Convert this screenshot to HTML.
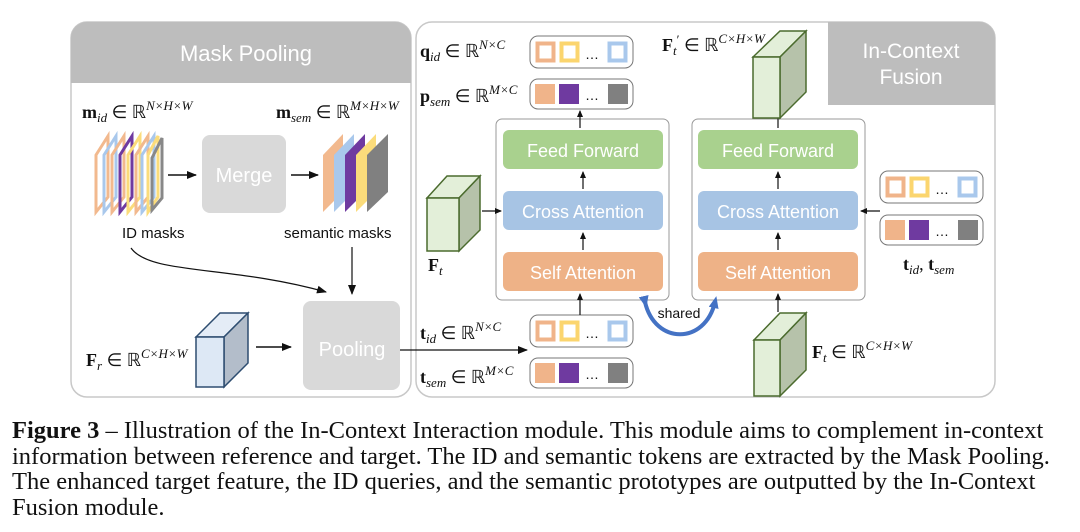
<!DOCTYPE html>
<html><head><meta charset="utf-8"><style>
html,body{margin:0;padding:0;background:#fff;}
body{width:1080px;height:532px;overflow:hidden;position:relative;}
.cap{position:absolute;left:12px;top:418px;white-space:nowrap;font-family:"Liberation Serif",serif;font-size:24.5px;line-height:25.5px;color:#111;}
svg text{font-family:"Liberation Sans",sans-serif;}
.m{font-family:"Liberation Serif",serif;font-size:18px;fill:#111;}
</style></head><body>
<svg width="1080" height="410" viewBox="0 0 1080 410" style="position:absolute;left:0;top:0">
<defs>
<marker id="ar" markerWidth="10" markerHeight="10" refX="9" refY="5" orient="auto" markerUnits="userSpaceOnUse"><path d="M0,1 L10,5 L0,9 z" fill="#111"/></marker>
<marker id="as" markerWidth="7" markerHeight="7" refX="6" refY="3.5" orient="auto" markerUnits="userSpaceOnUse"><path d="M0,0.5 L7,3.5 L0,6.5 z" fill="#111"/></marker>
<marker id="ab" markerWidth="12" markerHeight="12" refX="6" refY="6" orient="auto" markerUnits="userSpaceOnUse"><path d="M0,1 L12,6 L0,11 z" fill="#4472c4"/></marker>
</defs>
<rect x="71" y="22" width="340" height="375" rx="16" fill="#fff" stroke="#c8c8c8" stroke-width="1.5"/>
<path d="M71,83 V38 a16,16 0 0 1 16,-16 H395 a16,16 0 0 1 16,16 V83 z" fill="#bdbdbd"/>
<text x="246" y="61" font-size="22" fill="#fff" text-anchor="middle">Mask Pooling</text>
<text class="m" x="82" y="118"><tspan font-weight="bold">m</tspan><tspan font-style="italic" font-size="13" dy="4">id</tspan><tspan dy="-4"> ∈ ℝ</tspan><tspan font-style="italic" font-size="13" dy="-8">N×H×W</tspan></text>
<text class="m" x="276" y="118"><tspan font-weight="bold">m</tspan><tspan font-style="italic" font-size="13" dy="4">sem</tspan><tspan dy="-4"> ∈ ℝ</tspan><tspan font-style="italic" font-size="13" dy="-8">M×H×W</tspan></text>
<g fill="none" stroke-width="3">
<path d="M96,155 L108,136 V197 L96,212 z" stroke="#f2b98e"/>
<path d="M104,155 L116,136 V197 L104,212 z" stroke="#a9c8ec"/>
<path d="M112,155 L124,136 V197 L112,212 z" stroke="#f2b98e"/>
<path d="M120,155 L132,136 V197 L120,212 z" stroke="#6f3aa0"/>
<path d="M128,155 L140,136 V197 L128,212 z" stroke="#fbdc7b"/>
<path d="M136,155 L148,136 V197 L136,212 z" stroke="#f2b98e"/>
<path d="M142,155 L154,136 V197 L142,212 z" stroke="#a9c8ec"/>
<path d="M148,155 L158,136 V197 L148,212 z" stroke="#fbdc7b"/>
<path d="M152,158 L162,138 V198 L152,210 z" stroke="#888"/>
</g>
<line x1="168" y1="175" x2="196" y2="175" stroke="#111" stroke-width="1.5" marker-end="url(#ar)"/>
<rect x="202" y="135" width="84" height="78" rx="8" fill="#d9d9d9"/>
<text x="244" y="182" font-size="20" fill="#fff" text-anchor="middle">Merge</text>
<line x1="291" y1="175" x2="318" y2="175" stroke="#111" stroke-width="1.5" marker-end="url(#ar)"/>
<path d="M323,155 L343,134 V192 L323,212 z" fill="#f2b98e"/>
<path d="M334,155 L354,134 V192 L334,212 z" fill="#a9c8ec"/>
<path d="M345,155 L365,134 V192 L345,212 z" fill="#6f3aa0"/>
<path d="M356,155 L376,134 V192 L356,212 z" fill="#fbdc7b"/>
<path d="M367,155 L388,134 V192 L367,212 z" fill="#808080"/>
<text x="122" y="238" font-size="15" fill="#111">ID masks</text>
<text x="284" y="238" font-size="15" fill="#111">semantic masks</text>
<path d="M131,248 C150,275 230,265 326,292" fill="none" stroke="#111" stroke-width="1.2" marker-end="url(#ar)"/>
<line x1="352" y1="247" x2="352" y2="294" stroke="#111" stroke-width="1.2" marker-end="url(#ar)"/>
<rect x="303" y="301" width="97" height="89" rx="8" fill="#d9d9d9"/>
<text x="352" y="356" font-size="20" fill="#fff" text-anchor="middle">Pooling</text>
<path d="M196,337 L220,313 H248 L224,337 z" fill="#e4ecf6" stroke="#2e4d70" stroke-width="1.5"/>
<path d="M224,337 L248,313 V363 L224,387 z" fill="#b3bdca" stroke="#2e4d70" stroke-width="1.5"/>
<rect x="196" y="337" width="28" height="50" fill="#dde8f5" stroke="#2e4d70" stroke-width="1.5"/>
<text class="m" x="86" y="366"><tspan font-weight="bold">F</tspan><tspan font-style="italic" font-size="13" dy="4">r</tspan><tspan dy="-4"> ∈ ℝ</tspan><tspan font-style="italic" font-size="13" dy="-8">C×H×W</tspan></text>
<line x1="256" y1="347" x2="291" y2="347" stroke="#111" stroke-width="1.5" marker-end="url(#ar)"/>
<rect x="416" y="22" width="579" height="375" rx="16" fill="#fff" stroke="#c8c8c8" stroke-width="1.5"/>
<path d="M828,22 H979 a16,16 0 0 1 16,16 V105 H828 z" fill="#bdbdbd"/>
<text x="911" y="58" font-size="21" fill="#fff" text-anchor="middle">In-Context</text>
<text x="911" y="84" font-size="21" fill="#fff" text-anchor="middle">Fusion</text>
<line x1="400" y1="350" x2="527" y2="350" stroke="#111" stroke-width="1.2" marker-end="url(#ar)"/>
<g id="tid">
<rect x="530" y="36" width="103" height="32" rx="8" fill="#fff" stroke="#777" stroke-width="1"/>
<rect x="537.5" y="43.5" width="16" height="17" fill="#fff" stroke="#f0b48a" stroke-width="4"/>
<rect x="561.5" y="43.5" width="16" height="17" fill="#fff" stroke="#fbd56e" stroke-width="4"/>
<text x="585" y="59" font-size="14" fill="#111">…</text>
<rect x="609.5" y="43.5" width="16" height="17" fill="#fff" stroke="#a9c8ec" stroke-width="4"/>
</g>
<g id="tsem">
<rect x="530" y="79" width="103" height="30" rx="8" fill="#fff" stroke="#777" stroke-width="1"/>
<rect x="535" y="84" width="20" height="20" fill="#f0b48a"/>
<rect x="559" y="84" width="20" height="20" fill="#6f3aa0"/>
<text x="585" y="100" font-size="14" fill="#111">…</text>
<rect x="608" y="84" width="20" height="20" fill="#808080"/>
</g>
<use href="#tid" transform="translate(0,279)"/>
<use href="#tsem" transform="translate(0,279)"/>
<use href="#tid" transform="translate(350,135)"/>
<use href="#tsem" transform="translate(350,136)"/>
<text class="m" x="420" y="57"><tspan font-weight="bold">q</tspan><tspan font-style="italic" font-size="13" dy="4">id</tspan><tspan dy="-4"> ∈ ℝ</tspan><tspan font-style="italic" font-size="13" dy="-8">N×C</tspan></text>
<text class="m" x="420" y="102"><tspan font-weight="bold">p</tspan><tspan font-style="italic" font-size="13" dy="4">sem</tspan><tspan dy="-4"> ∈ ℝ</tspan><tspan font-style="italic" font-size="13" dy="-8">M×C</tspan></text>
<text class="m" x="420" y="339"><tspan font-weight="bold">t</tspan><tspan font-style="italic" font-size="13" dy="4">id</tspan><tspan dy="-4"> ∈ ℝ</tspan><tspan font-style="italic" font-size="13" dy="-8">N×C</tspan></text>
<text class="m" x="420" y="383"><tspan font-weight="bold">t</tspan><tspan font-style="italic" font-size="13" dy="4">sem</tspan><tspan dy="-4"> ∈ ℝ</tspan><tspan font-style="italic" font-size="13" dy="-8">M×C</tspan></text>
<text class="m" x="903" y="270"><tspan font-weight="bold">t</tspan><tspan font-style="italic" font-size="13" dy="4">id</tspan><tspan dy="-4">, </tspan><tspan font-weight="bold">t</tspan><tspan font-style="italic" font-size="13" dy="4">sem</tspan></text>
<text class="m" x="662" y="51"><tspan font-weight="bold">F</tspan><tspan font-style="italic" font-size="13" dy="4">t</tspan><tspan font-size="13" dy="-11">′</tspan><tspan dy="7"> ∈ ℝ</tspan><tspan font-style="italic" font-size="13" dy="-8">C×H×W</tspan></text>
<text class="m" x="812" y="358"><tspan font-weight="bold">F</tspan><tspan font-style="italic" font-size="13" dy="4">t</tspan><tspan dy="-4"> ∈ ℝ</tspan><tspan font-style="italic" font-size="13" dy="-8">C×H×W</tspan></text>
<text class="m" x="428" y="271"><tspan font-weight="bold">F</tspan><tspan font-style="italic" font-size="13" dy="4">t</tspan></text>
<g>
<rect x="496" y="119" width="173" height="181" rx="6" fill="#fff" stroke="#999" stroke-width="1"/>
<rect x="503" y="130" width="160" height="39" rx="6" fill="#a9d18e"/>
<rect x="503" y="191" width="160" height="39" rx="6" fill="#a7c4e4"/>
<rect x="503" y="252" width="160" height="39" rx="6" fill="#eeb287"/>
<text x="583" y="157" font-size="18" fill="#fff" text-anchor="middle">Feed Forward</text>
<text x="583" y="218" font-size="18" fill="#fff" text-anchor="middle">Cross Attention</text>
<text x="583" y="279" font-size="18" fill="#fff" text-anchor="middle">Self Attention</text>
<line x1="583" y1="250" x2="583" y2="233" stroke="#111" stroke-width="1.2" marker-end="url(#as)"/>
<line x1="583" y1="189" x2="583" y2="172" stroke="#111" stroke-width="1.2" marker-end="url(#as)"/>
</g>
<g>
<rect x="692" y="119" width="173" height="181" rx="6" fill="#fff" stroke="#999" stroke-width="1"/>
<rect x="698" y="130" width="160" height="39" rx="6" fill="#a9d18e"/>
<rect x="698" y="191" width="160" height="39" rx="6" fill="#a7c4e4"/>
<rect x="698" y="252" width="160" height="39" rx="6" fill="#eeb287"/>
<text x="778" y="157" font-size="18" fill="#fff" text-anchor="middle">Feed Forward</text>
<text x="778" y="218" font-size="18" fill="#fff" text-anchor="middle">Cross Attention</text>
<text x="778" y="279" font-size="18" fill="#fff" text-anchor="middle">Self Attention</text>
<line x1="778" y1="250" x2="778" y2="233" stroke="#111" stroke-width="1.2" marker-end="url(#as)"/>
<line x1="778" y1="189" x2="778" y2="172" stroke="#111" stroke-width="1.2" marker-end="url(#as)"/>
</g>
<line x1="580" y1="315" x2="580" y2="294" stroke="#111" stroke-width="1.2" marker-end="url(#as)"/>
<line x1="580" y1="128" x2="580" y2="111" stroke="#111" stroke-width="1.2" marker-end="url(#as)"/>
<line x1="778" y1="312" x2="778" y2="294" stroke="#111" stroke-width="1.2" marker-end="url(#as)"/>
<line x1="778" y1="128" x2="778" y2="111" stroke="#111" stroke-width="1.2" marker-end="url(#as)"/>
<line x1="482" y1="211" x2="501" y2="211" stroke="#111" stroke-width="1.2" marker-end="url(#as)"/>
<line x1="880" y1="211" x2="861" y2="211" stroke="#111" stroke-width="1.2" marker-end="url(#as)"/>
<path d="M645,302 C655,345 705,345 715,302" fill="none" stroke="#4472c4" stroke-width="4" marker-start="url(#ab)" marker-end="url(#ab)"/>
<text x="679" y="318" font-size="14" fill="#111" text-anchor="middle">shared</text>
<path d="M427,198 L447,176 H480 L459,198 z" fill="#e3efd9" stroke="#4b6b2e" stroke-width="1.5"/>
<path d="M459,198 L480,176 V230 L459,251 z" fill="#b6c2aa" stroke="#4b6b2e" stroke-width="1.5"/>
<rect x="427" y="198" width="32" height="53" fill="#e3efd9" stroke="#4b6b2e" stroke-width="1.5"/>
<path d="M753,57 L780,31 H806 L780,57 z" fill="#e3efd9" stroke="#4b6b2e" stroke-width="1.5"/>
<path d="M780,57 L806,31 V92 L780,118 z" fill="#b6c2aa" stroke="#4b6b2e" stroke-width="1.5"/>
<rect x="753" y="57" width="27" height="61" fill="#e3efd9" stroke="#4b6b2e" stroke-width="1.5"/>
<path d="M754,340 L780,313 H806 L780,340 z" fill="#e3efd9" stroke="#4b6b2e" stroke-width="1.5"/>
<path d="M780,340 L806,313 V370 L780,396 z" fill="#b6c2aa" stroke="#4b6b2e" stroke-width="1.5"/>
<rect x="754" y="340" width="26" height="56" fill="#e3efd9" stroke="#4b6b2e" stroke-width="1.5"/>
</svg>
<div class="cap"><b>Figure 3</b> – Illustration of the In-Context Interaction module. This module aims to complement in-context<br>information between reference and target. The ID and semantic tokens are extracted by the Mask Pooling.<br>The enhanced target feature, the ID queries, and the semantic prototypes are outputted by the In-Context<br>Fusion module.</div>
</body></html>
